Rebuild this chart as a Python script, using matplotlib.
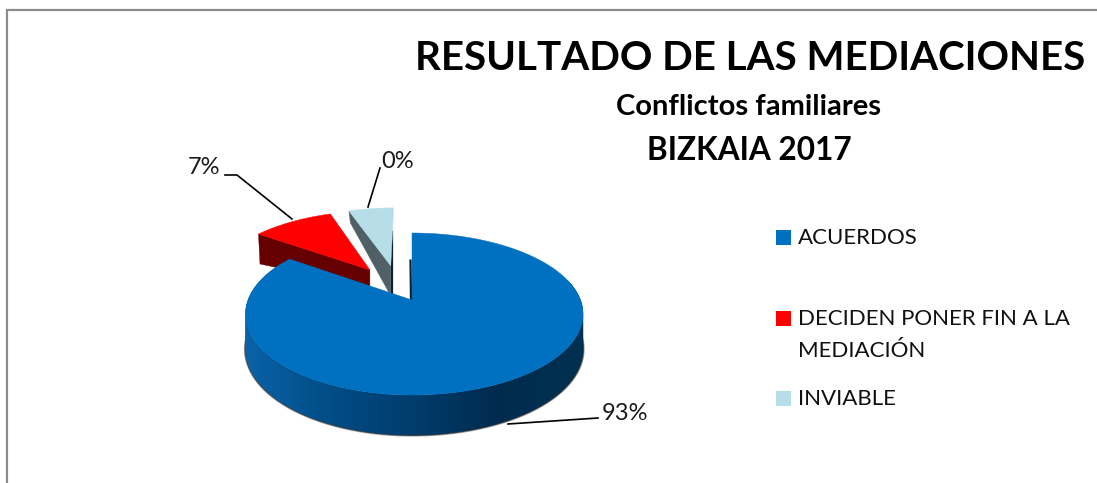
import numpy as np
import matplotlib
matplotlib.use("Agg")
import matplotlib.pyplot as plt
from matplotlib.colors import LinearSegmentedColormap
from matplotlib.patches import Polygon, Rectangle

plt.rcParams['font.family'] = ['Lato', 'DejaVu Sans']

title_lines = ["RESULTADO DE LAS MEDIACIONES", "Conflictos familiares", "BIZKAIA 2017"]
categories = ["ACUERDOS", "DECIDEN PONER FIN A LA\nMEDIACIÓN", "INVIABLE"]
pct_labels = ["93%", "7%", "0%"]
# the labels say 93/7/0 but the slices are drawn with these shares
drawn_shares = [84.7, 9.8, 5.5]
colors = ["#0070c0", "#ff0000", "#b7dde8"]

W, H = 1097, 483
CX, CY = 412, 300
K = 0.173
A = 78.6
R = 166.5


def project(u, v):
    u = np.asarray(u, dtype=float)
    v = np.asarray(v, dtype=float)
    side = np.where(u > 0, 1.012, 0.985)
    return CX + R * side * u / (1 + K * v), CY - A * v / (1 + K * v)


def depth(v):
    return 34 - 6 * np.asarray(v, dtype=float)


def arc(t0, t1, offset=(0, 0), n=160):
    t = np.radians(np.linspace(t0, t1, n))
    return np.sin(t) + offset[0], np.cos(t) + offset[1]


def top_face(ax, t0, t1, offset, color, z):
    u, v = arc(t0, t1, offset)
    x, y = project(np.r_[offset[0], u], np.r_[offset[1], v])
    ax.add_patch(Polygon(np.c_[x, y], closed=True, fc=color, ec=color, lw=0.3, zorder=z))


def side_wall(ax, theta, offset, near, far, color, z):
    t = np.radians(theta)
    x0, y0 = project(offset[0], offset[1])
    x1, y1 = project(np.sin(t) + offset[0], np.cos(t) + offset[1])
    pts = [(x0, y0), (x1, y1), (x1 + 1.5, y1 + far), (x0, y0 + near)]
    ax.add_patch(Polygon(pts, closed=True, fc=color, ec=color, lw=0.3, zorder=z))


def draw_pie(ax):
    ends = np.cumsum(drawn_shares) * 3.6
    blue_end, red_end = ends[0], ends[1]
    red_off = (-0.275, 0.41)
    light_off = (-0.14, 0.47)

    side_wall(ax, blue_end, red_off, 17, 30, "#660000", 2)
    top_face(ax, blue_end, red_end, red_off, colors[1], 3)

    side_wall(ax, red_end, light_off, 30, 12, "#4f6066", 2)
    top_face(ax, red_end, 360, light_off, colors[2], 3)

    # edge-on walls next to the gap
    x, y = project(light_off[0] * np.ones(2), light_off[1] + np.array([0.0, 0.55]))
    ax.plot([x[0] + 1.5, x[0] + 1.5], [y[1], y[0] + 27], color="#10202a", lw=1.6, zorder=2)
    x, y = project(np.zeros(2), np.array([0.0, 0.55]))
    ax.plot([x[0] - 1.5, x[0] - 1], [y[1], y[0]], color="#10202a", lw=1.6, zorder=2)

    # soft shadow below the rim, then the shaded outer wall
    u, v = arc(85, 285)
    x, y = project(u, v)
    y = y + depth(v)
    ax.plot(x, y, color="black", alpha=0.3, lw=2.4, zorder=3.5)
    ax.plot(x, y, color="black", alpha=0.6, lw=1.4, zorder=3.6)

    shade = LinearSegmentedColormap.from_list(
        "wall", [(0, "#0a62a8"), (0.22, "#014e88"), (0.52, "#003a68"),
                 (0.73, "#002b4e"), (1, "#003050")])
    # strips overlap the next one so no seams show
    t = np.linspace(75, 300, 150)
    for a, b in zip(t[:-1], t[1:]):
        u, v = arc(a, b + 1.5, n=4)
        x, y = project(u, v)
        pts = np.r_[np.c_[x, y], np.c_[x, y + depth(v)][::-1]]
        c = shade(np.clip((x.mean() - 245) / 338, 0, 1))
        ax.add_patch(Polygon(pts, closed=True, fc=c, ec="none", zorder=4))

    top_face(ax, 0, blue_end, (0, 0), colors[0], 5)


fig = plt.figure(figsize=(W / 100, H / 100), dpi=100)
ax = fig.add_axes([0, 0, 1, 1])
ax.set_xlim(0, W)
ax.set_ylim(H, 0)
ax.axis("off")

# chart frame, only the top and left edges are in the crop
ax.plot([7, 7, W], [H, 10, 10], color="#8c8c8c", lw=1.6, zorder=1, solid_joinstyle="miter")

draw_pie(ax)

ax.text(750, 59, title_lines[0], fontsize=29, fontweight="bold", ha="center", va="center", color="black")
ax.text(749, 107, title_lines[1], fontsize=21, fontweight="bold", ha="center", va="center", color="black")
ax.text(749, 150, title_lines[2], fontsize=22.7, fontweight="bold", ha="center", va="center", color="black")

# data labels and leader lines
leaders = [([508, 598], [424, 418]), ([225, 237, 292], [175, 175, 219]), ([380, 368], [168, 207])]
label_pos = [(625, 413), (204, 168), (398, 162)]
for lab, (lx, ly), (px, py) in zip(pct_labels, leaders, label_pos):
    ax.plot(lx, ly, color="black", lw=1.2, zorder=6)
    ax.text(px, py, lab, fontsize=17, ha="center", va="center", color="#1a1a1a", zorder=7)

# legend
legend_y = [237, 318, 398]
for cat, col, ly in zip(categories, colors, legend_y):
    ax.add_patch(Rectangle((776, ly - 7.5), 15, 15, fc=col, ec="none", zorder=6))
    lines = cat.split("\n")
    for i, line in enumerate(lines):
        ax.text(798, ly + i * 32 + 1, line, fontsize=16, ha="left", va="center", color="#111111")

fig.savefig("out.png", dpi=100)
